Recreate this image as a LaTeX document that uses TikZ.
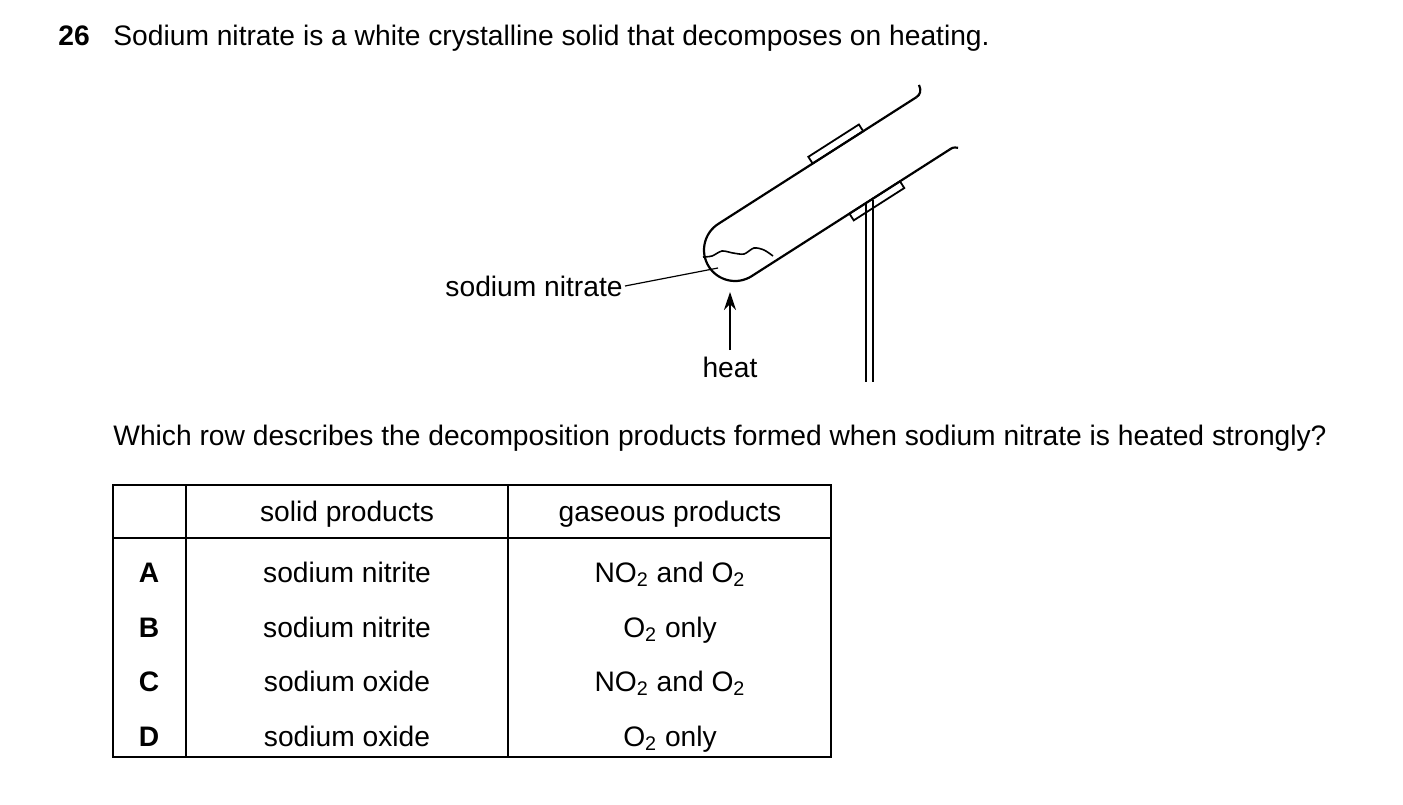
\documentclass[tikz,border=0pt]{standalone}
\usepackage{fontspec}
\setmainfont{Liberation Sans}
\usetikzlibrary{arrows.meta}
\begin{document}
\begin{tikzpicture}[x=0.5pt,y=-0.5pt,>={Stealth[length=9pt,width=6pt]},
  txt/.style={font=\fontsize{14.1}{16}\selectfont,inner sep=0pt},
  glass/.style={line width=1.1pt},
  grid/.style={line width=0.6pt}]

        % cadre
        \useasboundingbox (0,0) rectangle (1403,804);

        % enonce
        \node[txt,anchor=base west,font=\fontsize{14.1}{16}\selectfont\bfseries] (num) at (58,45) {26};
        \node[txt,anchor=base west] (title) at (113,45) {Sodium nitrate is a white crystalline solid that decomposes on heating.};

        % tube a essai incline
        \begin{scope}[shift={(735,250)},rotate=32.6]
          \draw[glass] (235,-31) -- (0,-31) arc[start angle=-90,end angle=-270,radius=31] -- (235,31);
          \draw[glass] (235,-31) .. controls (240,-31) and (243,-34) .. (244,-40);
          \draw[glass] (235,31) .. controls (239,31) .. (243,34);
          \draw[line width=0.9pt] (112,-31) rectangle (172,-39);
          \draw[line width=0.9pt] (116,31) rectangle (176,39);
        \end{scope}

        % support
        \draw[line width=0.9pt] (866,204) -- (866,382) (873,200) -- (873,382);

        % solide
        \coordinate (solid) at (718,268);
        \draw[line width=0.8pt] plot[smooth] coordinates {(703,257) (712,256) (722,251) (733,253) (744,254) (754,248) (764,250) (773,256)};

        % legendes
        \node[txt,anchor=east] (nitrate) at (623,286) {sodium nitrate};
        \draw[line width=0.6pt] (nitrate.east) ++(2,0) -- (solid);
        \node[txt] (heat) at (730,367) {heat};
        \coordinate (flame) at (730,292);
        \draw[->,line width=1.1pt] (730,350) -- (flame);

        % question
        \node[txt,anchor=base west] (question) at (113,445) {Which row describes the decomposition products formed when sodium nitrate is heated strongly?};

        % tableau
        \draw[grid] (113,485) rectangle (831,757);
        \draw[grid] (186,485) -- (186,757) (508,485) -- (508,757);
        \draw[line width=1pt] (113,537.5) -- (831,537.5);
        \node[txt,anchor=base] (h1) at (347,521) {solid products};
        \node[txt,anchor=base] (h2) at (670,521) {gaseous products};
        \foreach \y/\l/\s/\g in {582/A/sodium nitrite/NO\textsubscript{2} and O\textsubscript{2},
                                 637/B/sodium nitrite/O\textsubscript{2} only,
                                 691/C/sodium oxide/NO\textsubscript{2} and O\textsubscript{2},
                                 746/D/sodium oxide/O\textsubscript{2} only}{
          \node[txt,anchor=base,font=\fontsize{14.1}{16}\selectfont\bfseries] (k\l) at (149,\y) {\l};
          \node[txt,anchor=base] (s\l) at (347,\y) {\s};
          \node[txt,anchor=base] (g\l) at (670,\y) {\g};
        }
    \end{tikzpicture}
\end{document}
